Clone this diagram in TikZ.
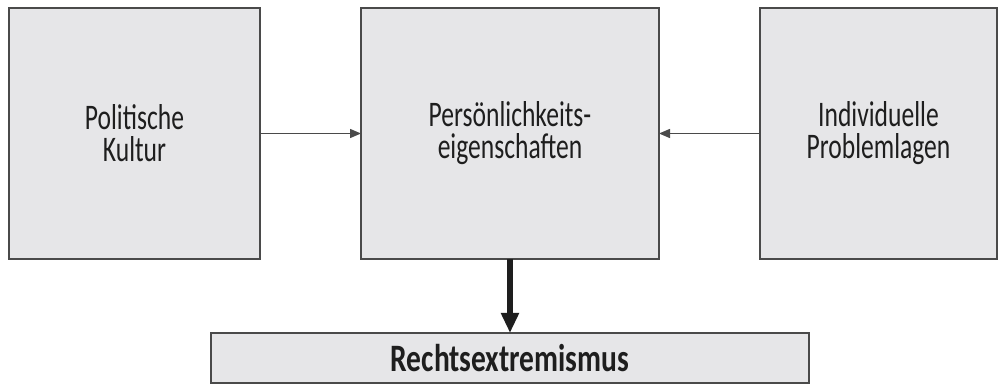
\documentclass[tikz,border=0pt]{standalone}
\usepackage{fontspec}
\setmainfont{Carlito}[FakeStretch=0.71,BoldFeatures={FakeStretch=0.76}]
\usetikzlibrary{arrows.meta}
\definecolor{boxgray}{HTML}{E6E6E8}
\definecolor{linegray}{HTML}{4A4A4A}
\definecolor{inkgray}{HTML}{1E1E1E}

\begin{document}
\begin{tikzpicture}[x=0.5pt,y=-0.5pt,
  factor/.style = {rectangle,draw=linegray,fill=boxgray,line width=1pt,minimum height=125.5pt,inner sep=0pt,outer sep=0mm,align=center,text=inkgray,font=\fontsize{18}{16}\selectfont},
  link/.style = {draw=linegray,line width=0.75pt,-{Triangle[length=5.5pt,width=4.5pt]}},
  effect/.style = {draw=inkgray,line width=3pt,-{Triangle[length=10pt,width=8.5pt]}}]
\useasboundingbox (0,0) rectangle (998,385);
\node[factor,minimum width=125.5pt] (kultur) at (134.5,133.5) {Politische\\Kultur};
\node[factor,minimum width=149pt] (pers) at (510,133.5) {Persönlichkeits-\\eigenschaften};
\node[factor,minimum width=118.5pt] (probl) at (878.5,133.5) {Individuelle\\Problemlagen};
\node[factor,minimum width=299pt,minimum height=25pt,font=\fontsize{19.4}{20}\selectfont\bfseries] (rechts) at (510,358) {Rechtsextremismus};
\draw[link] (kultur) -- (pers);
\draw[link] (probl) -- (pers);
\draw[effect] (pers) -- (rechts);
\end{tikzpicture}
\end{document}
